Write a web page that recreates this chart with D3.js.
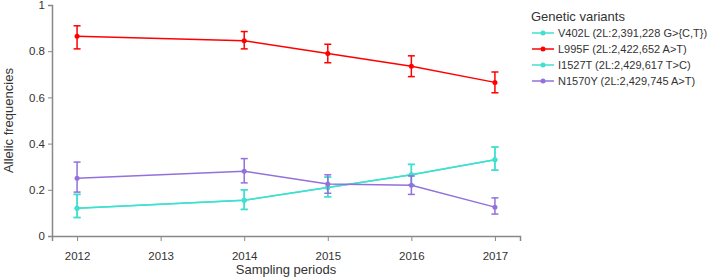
<!DOCTYPE html>
<html>
<head>
<meta charset="utf-8">
<script src="https://cdn.jsdelivr.net/npm/d3@7"></script>
<style>
body{margin:0;background:#fff;font-family:"Liberation Sans",Arial,sans-serif;}
</style>
</head>
<body>
<div id="chart-area"></div>
<script>
var years=[2012,2014,2015,2016,2017];
var xTicks=[2012,2013,2014,2015,2016,2017];
var yTicks=[0,0.2,0.4,0.6,0.8,1];
var variants=["V402L (2L:2,391,228 G>{C,T})","L995F (2L:2,422,652 A>T)","I1527T (2L:2,429,617 T>C)","N1570Y (2L:2,429,745 A>T)"];
var colors=["#40e0d0","#ff0000","#40e0d0","#9370db"];

// frequency, lower and upper bound per sampling period
var v402l=[0.12,0.155,0.21,0.265,0.33];
var v402lLo=[0.08,0.115,0.17,0.22,0.285];
var v402lHi=[0.18,0.20,0.255,0.31,0.385];
var l995f=[0.865,0.845,0.79,0.735,0.665];
var l995fLo=[0.81,0.81,0.75,0.69,0.62];
var l995fHi=[0.91,0.885,0.83,0.78,0.71];
var i1527t=[0.12,0.155,0.21,0.265,0.33];
var i1527tLo=[0.08,0.115,0.17,0.22,0.285];
var i1527tHi=[0.18,0.20,0.255,0.31,0.385];
var n1570y=[0.25,0.28,0.225,0.22,0.125];
var n1570yLo=[0.19,0.23,0.185,0.18,0.095];
var n1570yHi=[0.32,0.335,0.265,0.26,0.165];

var series=[
  {name:variants[0],color:colors[0],v:v402l,lo:v402lLo,hi:v402lHi},
  {name:variants[1],color:colors[1],v:l995f,lo:l995fLo,hi:l995fHi},
  {name:variants[2],color:colors[2],v:i1527t,lo:i1527tLo,hi:i1527tHi},
  {name:variants[3],color:colors[3],v:n1570y,lo:n1570yLo,hi:n1570yHi}
];

var W=707,H=279;
var margin={left:52,right:187,top:5,bottom:43};
var width=W-margin.left-margin.right, height=H-margin.top-margin.bottom;

var svg=d3.select("#chart-area").append("svg")
  .attr("width",W).attr("height",H);
var g=svg.append("g")
  .attr("transform","translate("+margin.left+","+margin.top+")");

var x=d3.scaleLinear().domain([2011.7,2017.3]).range([0,width]);
var y=d3.scaleLinear().domain([0,1]).range([height,0]);

var xAxis=g.append("g")
  .attr("transform","translate(0,"+height+")")
  .call(d3.axisBottom(x).tickValues(xTicks).tickFormat(d3.format("d")).tickSizeOuter(0).tickSize(5));
var yAxis=g.append("g")
  .call(d3.axisLeft(y).tickValues(yTicks).tickFormat(d=>d===0||d===1?d:d3.format(".1f")(d)).tickSizeOuter(0).tickSize(4));

[xAxis,yAxis].forEach(a=>{
  a.select(".domain").attr("stroke","#888").attr("stroke-width",1.5);
  a.selectAll(".tick line").attr("stroke","#888");
  a.selectAll("text").attr("fill","#333").attr("font-size","11.5px")
    .attr("font-family","'Liberation Sans',Arial,sans-serif");
});
xAxis.selectAll("text").attr("dy","1.35em");

g.append("text")
  .attr("x",width/2).attr("y",height+38)
  .attr("text-anchor","middle").attr("font-size","13px").attr("fill","#333")
  .text("Sampling periods");
g.append("text")
  .attr("transform","rotate(-90)")
  .attr("x",-height/2).attr("y",-39)
  .attr("text-anchor","middle").attr("font-size","13px").attr("fill","#333")
  .text("Allelic frequencies");

var line=d3.line().x(d=>x(d.year)).y(d=>y(d.v));

series.forEach(s=>{
  var pts=years.map((yr,i)=>({year:yr,v:s.v[i],lo:s.lo[i],hi:s.hi[i]}));
  var sg=g.append("g");
  sg.append("path").datum(pts)
    .attr("d",line).attr("fill","none")
    .attr("stroke",s.color).attr("stroke-width",1.5);
  var eb=sg.selectAll(".eb").data(pts).enter().append("g");
  eb.append("line")
    .attr("x1",d=>x(d.year)).attr("x2",d=>x(d.year))
    .attr("y1",d=>y(d.lo)).attr("y2",d=>y(d.hi))
    .attr("stroke",s.color).attr("stroke-width",1.5);
  eb.append("line")
    .attr("x1",d=>x(d.year)-3.5).attr("x2",d=>x(d.year)+3.5)
    .attr("y1",d=>y(d.lo)).attr("y2",d=>y(d.lo))
    .attr("stroke",s.color).attr("stroke-width",1.5);
  eb.append("line")
    .attr("x1",d=>x(d.year)-3.5).attr("x2",d=>x(d.year)+3.5)
    .attr("y1",d=>y(d.hi)).attr("y2",d=>y(d.hi))
    .attr("stroke",s.color).attr("stroke-width",1.5);
  eb.append("circle")
    .attr("cx",d=>x(d.year)).attr("cy",d=>y(d.v))
    .attr("r",2.5).attr("fill",s.color);
});

var legend=svg.append("g").attr("transform","translate(531,0)");
legend.append("text")
  .attr("x",0).attr("y",21)
  .attr("font-size","13px").attr("fill","#333")
  .text("Genetic variants");
series.forEach((s,i)=>{
  var row=legend.append("g").attr("transform","translate(0,"+(33+i*16)+")");
  row.append("line").attr("x1",1).attr("x2",23).attr("y1",0).attr("y2",0)
    .attr("stroke",s.color).attr("stroke-width",1.5);
  row.append("circle").attr("cx",12).attr("cy",0).attr("r",2.5).attr("fill",s.color);
  row.append("text").attr("x",27).attr("y",4)
    .attr("font-size","11px").attr("fill","#333")
    .text(s.name);
});
</script>
</body>
</html>
